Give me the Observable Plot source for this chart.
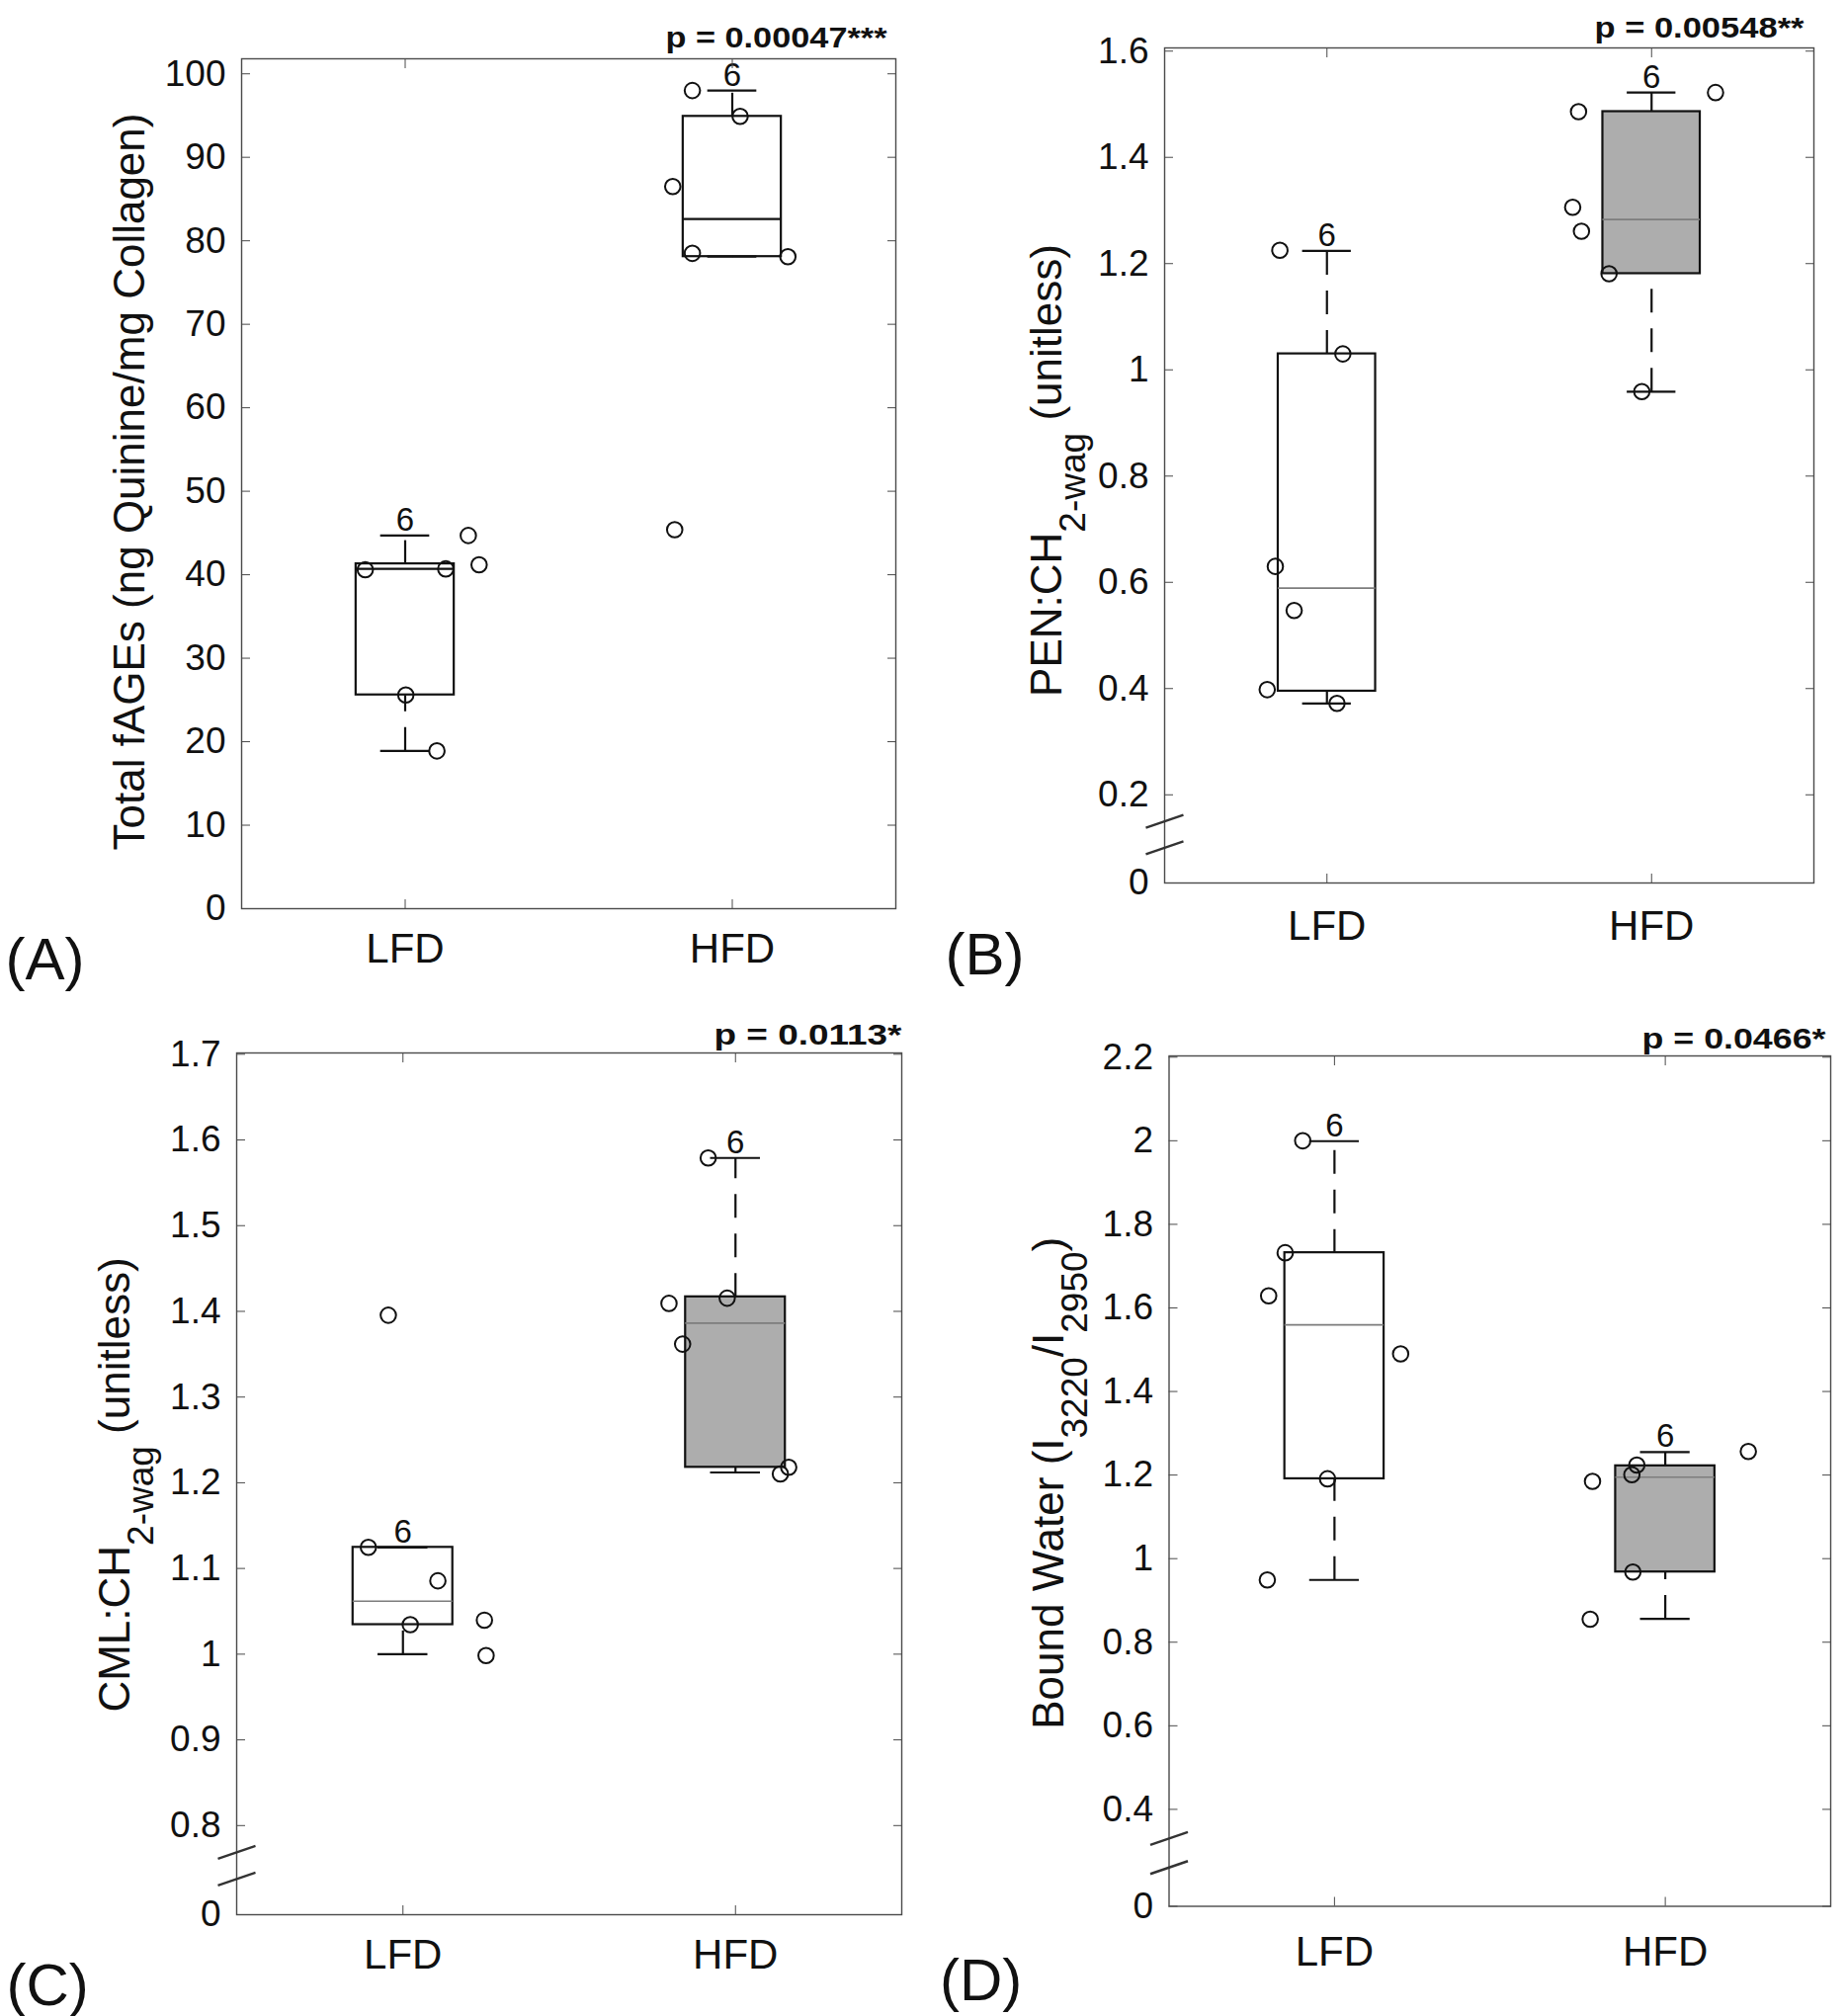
<!DOCTYPE html>
<html>
<head>
<meta charset="utf-8">
<script src="https://cdn.jsdelivr.net/npm/d3@7"></script>
<script src="https://cdn.jsdelivr.net/npm/@observablehq/plot@0.6"></script>
<style>
  body { margin: 0; background: #fff; }
  #fig { position: relative; width: 1869px; height: 2040px; background: #fff; }
  #fig svg { position: absolute; overflow: visible; }
</style>
</head>
<body>
<div id="fig"></div>
<script>
// ---------- shared categories ----------
const groups = ["LFD", "HFD"];
const groupPos = [1, 2];
const nLabels = ["6", "6"];

// ---------- Panel A : Total fAGEs ----------
const aLFDValues = [40.6, 40.7, 44.7, 41.2, 25.6, 18.9];
const aLFDJitter = [0.878, 1.124, 1.193, 1.226, 1.002, 1.097];
const aHFDValues = [98.0, 94.9, 86.5, 78.5, 78.1, 45.4];
const aHFDJitter = [1.878, 2.024, 1.818, 1.878, 2.170, 1.824];
// [whisker low, q1, median, q3, whisker high]
const aLFDBox = [18.9, 25.6, 40.7, 41.3, 44.7];
const aHFDBox = [78.1, 78.1, 82.6, 94.9, 98.0];
const aYTicks = [0, 10, 20, 30, 40, 50, 60, 70, 80, 90, 100];
const aYTickLabels = ["0", "10", "20", "30", "40", "50", "60", "70", "80", "90", "100"];
const aYDomain = [0, 101.8];
const aPText = "p = 0.00047***";
const aYLabelParts = ["Total fAGEs (ng Quinine/mg Collagen)"];
const aYLabelSub = [false];

// ---------- Panel B : PEN ----------
const bLFDValues = [1.225, 1.030, 0.630, 0.547, 0.398, 0.372];
const bLFDJitter = [0.855, 1.049, 0.841, 0.899, 0.816, 1.031];
const bHFDValues = [1.486, 1.522, 1.306, 1.261, 1.181, 0.959];
const bHFDJitter = [1.775, 2.197, 1.757, 1.784, 1.869, 1.970];
const bLFDBox = [0.372, 0.395, 0.589, 1.030, 1.224];
const bHFDBox = [0.959, 1.181, 1.283, 1.486, 1.522];
const bYTicks = [0.2, 0.4, 0.6, 0.8, 1.0, 1.2, 1.4, 1.6];
const bYTickLabels = ["0.2", "0.4", "0.6", "0.8", "1", "1.2", "1.4", "1.6"];
const bYDomain = [0.034, 1.606];
const bPText = "p = 0.00548**";
const bYLabelParts = ["PEN:CH", "2-wag", " (unitless)"];
const bYLabelSub = [false, true, false];

// ---------- Panel C : CML ----------
const cLFDValues = [1.3955, 1.1246, 1.0856, 1.0344, 1.0397, 0.9984];
const cLFDJitter = [0.956, 0.896, 1.105, 1.022, 1.245, 1.250];
const cHFDValues = [1.579, 1.4154, 1.4093, 1.3618, 1.2103, 1.218];
const cHFDJitter = [1.918, 1.975, 1.800, 1.841, 2.135, 2.160];
const cLFDBox = [1.000, 1.0344, 1.0619, 1.1246, 1.1246];
const cHFDBox = [1.212, 1.218, 1.3863, 1.4169, 1.579];
const cYTicks = [0.8, 0.9, 1.0, 1.1, 1.2, 1.3, 1.4, 1.5, 1.6, 1.7];
const cYTickLabels = ["0.8", "0.9", "1", "1.1", "1.2", "1.3", "1.4", "1.5", "1.6", "1.7"];
const cYDomain = [0.696, 1.7015];
const cPText = "p = 0.0113*";
const cYLabelParts = ["CML:CH", "2-wag", " (unitless)"];
const cYLabelSub = [false, true, false];

// ---------- Panel D : Bound water ----------
const dLFDValues = [2.000, 1.732, 1.629, 1.490, 1.191, 0.949];
const dLFDJitter = [0.904, 0.851, 0.801, 1.200, 0.979, 0.797];
const dHFDValues = [1.2565, 1.224, 1.201, 1.185, 0.968, 0.855];
const dHFDJitter = [2.251, 1.914, 1.899, 1.780, 1.902, 1.773];
const dLFDBox = [0.949, 1.191, 1.5595, 1.732, 1.999];
const dHFDBox = [0.856, 0.968, 1.195, 1.222, 1.255];
const dYTicks = [0.4, 0.6, 0.8, 1.0, 1.2, 1.4, 1.6, 1.8, 2.0, 2.2];
const dYTickLabels = ["0.4", "0.6", "0.8", "1", "1.2", "1.4", "1.6", "1.8", "2", "2.2"];
const dYDomain = [0.168, 2.203];
const dPText = "p = 0.0466*";
const dYLabelParts = ["Bound Water (I", "3220", "/I", "2950", ")"];
const dYLabelSub = [false, true, false, true, false];

const breakLabel = "0";
const FONT = "Liberation Sans, Arial, Helvetica, sans-serif";
const INK = "#111";
const AXIS = "#4a4a4a";

function panel(cfg) {
  const m = cfg.margin;
  const innerW = cfg.width - m.left - m.right;
  const innerH = cfg.height - m.top - m.bottom;
  const [y0, y1] = cfg.yDomain;
  const pxPerY = innerH / (y1 - y0);
  const pxPerX = innerW / 2;

  const boxes = groupPos.map((x, i) => {
    const b = cfg.boxes[i];
    return {x, lo: b[0], q1: b[1], med: b[2], q3: b[3], hi: b[4], n: nLabels[i]};
  });
  const pts = [];
  cfg.values.forEach((vals, i) => vals.forEach((v, j) => pts.push({x: cfg.jitter[i][j], y: v})));

  const tickVals = cfg.hasBreak ? [y0, ...cfg.yTicks] : cfg.yTicks;
  const tickText = cfg.hasBreak ? [breakLabel, ...cfg.yTickLabels] : cfg.yTickLabels;
  const fmtY = v => tickText[tickVals.indexOf(v)];
  const fmtX = v => groups[groupPos.indexOf(v)];

  const marks = [Plot.frame({stroke: AXIS, strokeWidth: 1.4})];

  groupPos.forEach((x, i) => {
    marks.push(Plot.rect([boxes[i]], {
      x1: d => d.x - 0.15, x2: d => d.x + 0.15, y1: "q1", y2: "q3",
      fill: cfg.fills[i], stroke: INK, strokeWidth: 2.2
    }));
  });
  marks.push(
    Plot.ruleY(boxes, {y: "med", x1: d => d.x - 0.15, x2: d => d.x + 0.15,
      stroke: cfg.medianColor, strokeWidth: cfg.medianWidth}),
    Plot.link(boxes, {x1: "x", x2: "x", y1: "lo", y2: "q1", stroke: INK, strokeWidth: 2.2, strokeDasharray: "24,16"}),
    Plot.link(boxes, {x1: "x", x2: "x", y1: "q3", y2: "hi", stroke: INK, strokeWidth: 2.2, strokeDasharray: "24,16"}),
    Plot.ruleY(boxes, {y: "lo", x1: d => d.x - 0.075, x2: d => d.x + 0.075, stroke: INK, strokeWidth: 2.2}),
    Plot.ruleY(boxes, {y: "hi", x1: d => d.x - 0.075, x2: d => d.x + 0.075, stroke: INK, strokeWidth: 2.2}),
    Plot.dot(pts, {x: "x", y: "y", r: 7.8, stroke: INK, strokeWidth: 2, fill: "none"}),
    Plot.text(boxes, {x: "x", y: "hi", text: "n", dy: -5, lineAnchor: "bottom", fontSize: 33, fill: INK}),
    Plot.axisY({anchor: "left", ticks: tickVals, tickFormat: fmtY, tickSize: -9, tickPadding: 25,
      stroke: AXIS, fill: INK, fontSize: 37, label: null}),
    Plot.axisY({anchor: "right", ticks: tickVals, tickFormat: () => "", tickSize: -9, stroke: AXIS, label: null}),
    Plot.axisX({anchor: "bottom", ticks: groupPos, tickFormat: fmtX, tickSize: -9, tickPadding: 9 + cfg.xLabelGap,
      stroke: AXIS, fill: INK, fontSize: 42, label: null}),
    Plot.axisX({anchor: "top", ticks: groupPos, tickFormat: () => "", tickSize: -9, stroke: AXIS, label: null}),
    Plot.text([cfg.pText], {frameAnchor: "top-right", text: d => d, textAnchor: "end", lineAnchor: "bottom",
      dx: cfg.pDx, dy: cfg.pDy, fontSize: 30, fontWeight: "bold", fill: INK}),
    Plot.text([cfg.yLabelParts.join("")], {frameAnchor: "left", text: d => d, rotate: -90, textAnchor: "middle",
      lineAnchor: "top", dx: -cfg.yLabelOffset, dy: cfg.yLabelDy, fontSize: 44, fill: INK}),
    Plot.text([cfg.letter], {frameAnchor: "bottom-left", text: d => d, textAnchor: "start", lineAnchor: "bottom",
      dx: cfg.letterDx, dy: cfg.letterDy, fontSize: 60, fill: INK})
  );

  if (cfg.hasBreak) {
    const lowTick = cfg.yTicks[0];
    const halfW = 19 / pxPerX;
    const halfRise = 6.5 / pxPerY;
    const breaks = [0.3, 0.6].map(f => {
      const c = lowTick - f * (lowTick - y0);
      return {x1: 0.5 - halfW, x2: 0.5 + halfW, y1: c - halfRise, y2: c + halfRise};
    });
    marks.push(Plot.link(breaks, {x1: "x1", x2: "x2", y1: "y1", y2: "y2", stroke: "#333", strokeWidth: 2.4}));
  }

  const svg = Plot.plot({
    width: cfg.width, height: cfg.height,
    marginLeft: m.left, marginRight: m.right, marginTop: m.top, marginBottom: m.bottom,
    x: {type: "linear", domain: [0.5, 2.5]},
    y: {type: "linear", domain: cfg.yDomain},
    style: {fontFamily: FONT, background: "transparent", overflow: "visible"},
    marks
  });
  svg.style.left = cfg.left + "px";
  svg.style.top = cfg.top + "px";

  // p-value text: stretch to the measured width
  d3.select(svg).selectAll("text")
    .filter(function () { return this.textContent === cfg.pText; })
    .attr("textLength", cfg.pWidth).attr("lengthAdjust", "spacingAndGlyphs");

  // y label with subscripts
  const full = cfg.yLabelParts.join("");
  d3.select(svg).selectAll("text")
    .filter(function () { return this.textContent === full; })
    .each(function () {
      const t = d3.select(this);
      t.text(null);
      let prevSub = false;
      cfg.yLabelParts.forEach((part, i) => {
        const sub = cfg.yLabelSub[i];
        const ts = t.append("tspan").text(part);
        if (sub) { ts.attr("font-size", 37).attr("dy", prevSub ? 0 : 24); }
        else if (prevSub) { ts.attr("dy", -24); }
        prevSub = sub;
      });
    });

  document.getElementById("fig").appendChild(svg);
}

panel({
  left: 0, top: 0, width: 935, height: 1000,
  margin: {left: 244, right: 29, top: 59, bottom: 81},
  yDomain: aYDomain, yTicks: aYTicks, yTickLabels: aYTickLabels, hasBreak: false,
  values: [aLFDValues, aHFDValues], jitter: [aLFDJitter, aHFDJitter], boxes: [aLFDBox, aHFDBox],
  fills: ["white", "white"], medianColor: INK, medianWidth: 2.2,
  pText: aPText, pDx: -9, pDy: -11.5, pWidth: 224,
  yLabelParts: aYLabelParts, yLabelSub: aYLabelSub, yLabelOffset: 130, yLabelDy: -2,
  letter: "(A)", letterDx: -239, letterDy: 71, xLabelGap: 25
});
panel({
  left: 935, top: 0, width: 934, height: 1000,
  margin: {left: 243, right: 34, top: 48, bottom: 107},
  yDomain: bYDomain, yTicks: bYTicks, yTickLabels: bYTickLabels, hasBreak: true,
  values: [bLFDValues, bHFDValues], jitter: [bLFDJitter, bHFDJitter], boxes: [bLFDBox, bHFDBox],
  fills: ["white", "#adadad"], medianColor: "#7d7d7d", medianWidth: 1.6,
  pText: bPText, pDx: -10, pDy: -10.5, pWidth: 212,
  yLabelParts: bYLabelParts, yLabelSub: bYLabelSub, yLabelOffset: 136, yLabelDy: 5,
  letter: "(B)", letterDx: -222, letterDy: 92, xLabelGap: 28
});
panel({
  left: 0, top: 1000, width: 935, height: 1040,
  margin: {left: 239, right: 23, top: 65, bottom: 103},
  yDomain: cYDomain, yTicks: cYTicks, yTickLabels: cYTickLabels, hasBreak: true,
  values: [cLFDValues, cHFDValues], jitter: [cLFDJitter, cHFDJitter], boxes: [cLFDBox, cHFDBox],
  fills: ["white", "#adadad"], medianColor: "#7d7d7d", medianWidth: 1.6,
  pText: cPText, pDx: 0, pDy: -9, pWidth: 190,
  yLabelParts: cYLabelParts, yLabelSub: cYLabelSub, yLabelOffset: 140, yLabelDy: 1,
  letter: "(C)", letterDx: -233, letterDy: 91, xLabelGap: 25
});
panel({
  left: 935, top: 1000, width: 934, height: 1040,
  margin: {left: 247.5, right: 17, top: 68, bottom: 111.5},
  yDomain: dYDomain, yTicks: dYTicks, yTickLabels: dYTickLabels, hasBreak: true,
  values: [dLFDValues, dHFDValues], jitter: [dLFDJitter, dHFDJitter], boxes: [dLFDBox, dHFDBox],
  fills: ["white", "#adadad"], medianColor: "#7d7d7d", medianWidth: 1.6,
  pText: dPText, pDx: -5, pDy: -8, pWidth: 186,
  yLabelParts: dYLabelParts, yLabelSub: dYLabelSub, yLabelOffset: 138.5, yLabelDy: 2,
  letter: "(D)", letterDx: -232, letterDy: 95, xLabelGap: 30
});
</script>
</body>
</html>
